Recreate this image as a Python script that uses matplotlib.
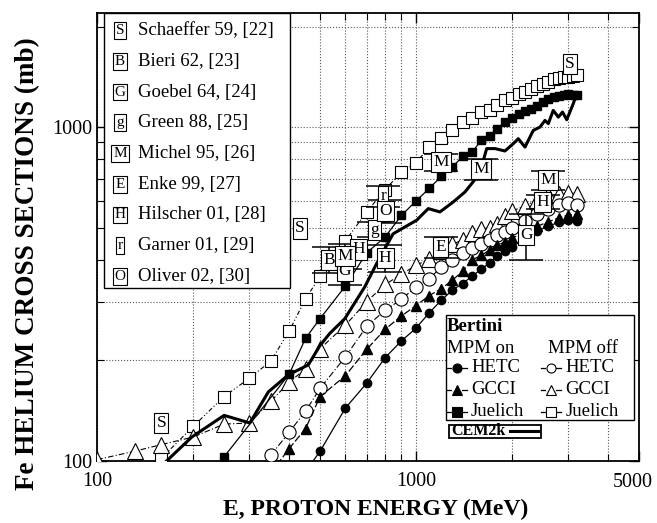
import matplotlib.pyplot as plt
from matplotlib.patches import Rectangle
from matplotlib.lines import Line2D
from matplotlib.transforms import offset_copy
from matplotlib.ticker import FixedLocator, NullFormatter, FixedFormatter

plt.rcParams['font.family'] = 'Liberation Serif'

# Bertini INC with MPM on
e_hetc_on = [450, 500, 600, 700, 800, 900, 1000, 1100, 1200, 1300, 1400, 1500, 1600,
             1700, 1800, 1900, 2000, 2200, 2400, 2600, 2800, 3000, 3200]
s_hetc_on = [93, 107, 144, 171, 204, 229, 250, 278, 303, 325, 340, 358, 375,
             392, 410, 425, 438, 465, 488, 505, 518, 526, 524]

e_gcci_on = [350, 400, 450, 500, 600, 700, 800, 900, 1000, 1100, 1200, 1300, 1400, 1500,
             1600, 1700, 1800, 1900, 2000, 2200, 2400, 2600, 2800, 3000, 3200]
s_gcci_on = [92, 109, 125, 156, 180, 216, 248, 272, 292, 313, 328, 348, 370, 400,
             413, 428, 443, 453, 465, 485, 505, 520, 535, 545, 548]

e_juel_on = [250, 400, 450, 500, 600, 700, 800, 900, 1000, 1100, 1200, 1300, 1400, 1500,
             1600, 1700, 1800, 1900, 2000, 2100, 2200, 2300, 2400, 2500, 2600, 2700,
             2800, 2900, 3000, 3100, 3200]
s_juel_on = [103, 182, 233, 267, 334, 420, 469, 544, 601, 655, 712, 759, 817, 842,
             912, 938, 989, 1035, 1064, 1091, 1116, 1135, 1153, 1188, 1216, 1230,
             1236, 1245, 1259, 1250, 1244]

# Bertini INC with MPM off
e_hetc_off = [350, 400, 450, 500, 600, 700, 800, 900, 1000, 1100, 1200, 1300, 1400,
              1500, 1600, 1700, 1800, 1900, 2000, 2200, 2400, 2600, 2800, 3000, 3200]
s_hetc_off = [104, 122, 141, 165, 205, 253, 283, 305, 333, 352, 380, 399, 420,
              435, 448, 458, 474, 486, 497, 525, 551, 568, 585, 592, 585]

e_gcci_off = [100, 131, 159, 200, 250, 300, 350, 400, 450, 500, 600, 700, 800, 900, 1000,
              1100, 1200, 1300, 1400, 1500, 1600, 1700, 1800, 1900, 2000, 2200, 2400,
              2600, 2800, 3000, 3200]
s_gcci_off = [101, 107, 112, 118, 129, 130, 151, 172, 189, 217, 255, 300, 338, 362, 386,
              402, 425, 445, 460, 482, 494, 500, 514, 540, 560, 582, 605,
              624, 630, 635, 632]

e_juel_off = [159, 200, 250, 300, 350, 400, 450, 500, 600, 700, 800, 900, 1000, 1100,
              1200, 1300, 1400, 1500, 1600, 1700, 1800, 1900, 2000, 2100, 2200, 2300,
              2400, 2500, 2600, 2700, 2800, 2900, 3000, 3100, 3200]
s_juel_off = [102, 127, 156, 177, 199, 245, 306, 357, 456, 557, 650, 733, 783, 871,
              929, 982, 1035, 1067, 1109, 1127, 1167, 1202, 1218, 1253, 1273, 1303,
              1324, 1343, 1364, 1396, 1405, 1410, 1412, 1420, 1428]

# CEM2k
e_cem = [165, 198, 250, 301, 344, 397, 459, 500, 536, 598, 690, 752, 847, 922, 1004,
         1092, 1188, 1309, 1423, 1494, 1582, 1665, 1768, 1900, 2018, 2092, 2196, 2331,
         2447, 2537, 2599, 2693, 2793, 2880, 2968, 3112, 3189]
s_cem = [100, 118, 137, 130, 161, 181, 194, 222, 241, 267, 332, 390, 479, 502, 526,
         570, 557, 597, 639, 677, 725, 862, 862, 848, 892, 923, 871, 977,
         1000, 1047, 1024, 1122, 1071, 1109, 1052, 1175, 1259]

# measurements: letter, energy (MeV), cross section (mb), error (mb)
exp_letter = ['S', 'S', 'S', 'B', 'G', 'G', 'g', 'M', 'M', 'M', 'M',
              'E', 'H', 'H', 'H', 'r', 'O']
exp_e = [159, 432, 3040, 533, 598, 2212, 740, 598, 1197, 1600, 2598,
         1196, 660, 800, 2496, 790, 800]
exp_s = [130, 497, 1548, 401, 371, 474, 493, 410, 785, 748, 693,
         438, 430, 405, 597, 620, 560]
exp_err = [0, 0, 0, 35, 35, 75, 25, 35, 45, 55, 47,
           32, 0, 37, 30, 45, 45]

legend_letters = ['S', 'B', 'G', 'g', 'M', 'E', 'H', 'r', 'O']
legend_refs = ['Schaeffer 59, [22]', 'Bieri 62, [23]', 'Goebel 64, [24]',
               'Green 88, [25]', 'Michel 95, [26]', 'Enke 99, [27]',
               'Hilscher 01, [28]', 'Garner 01, [29]', 'Oliver 02, [30]']

fig = plt.figure(figsize=(6.57, 5.23), dpi=100)
ax = fig.add_axes([0.148, 0.1185, 0.8245, 0.8572])
ax.set_xscale('log')
ax.set_yscale('log')
ax.set_xlim(100, 5000)
ax.set_ylim(100, 2200)

ax.plot(e_juel_off, s_juel_off, ls=(0, (4, 2, 1, 2, 1, 2)), color='k', lw=0.8,
        marker='s', ms=9, mfc='white', mec='k', mew=0.8, zorder=3)
ax.plot(e_gcci_off, s_gcci_off, ls=(0, (5, 2, 1, 2)), color='k', lw=0.8,
        marker='^', ms=11, mfc='white', mec='k', mew=0.8, zorder=3)
ax.plot(e_hetc_off, s_hetc_off, ls=(0, (6, 2, 1, 2)), color='k', lw=0.8,
        marker='o', ms=9.5, mfc='white', mec='k', mew=0.8, zorder=3)
ax.plot(e_juel_on, s_juel_on, ls='-', color='k', lw=0.9,
        marker='s', ms=5.5, mfc='k', mec='k', zorder=4)
ax.plot(e_gcci_on, s_gcci_on, ls=(0, (6, 2)), color='k', lw=0.9,
        marker='^', ms=7, mfc='k', mec='k', zorder=4)
ax.plot(e_hetc_on, s_hetc_on, ls='-', color='k', lw=0.9,
        marker='o', ms=6, mfc='k', mec='k', zorder=4)
ax.plot(e_cem, s_cem, color='k', lw=2.2, zorder=5)

box = dict(boxstyle='square,pad=0.12', fc='white', ec='k', lw=0.8)
for i in range(len(exp_letter)):
    if exp_err[i] > 0:
        ax.errorbar(exp_e[i], exp_s[i], yerr=exp_err[i], fmt='none', ecolor='k',
                    elinewidth=1.1, capsize=12, capthick=1.1, zorder=6)
    ax.text(exp_e[i], exp_s[i], exp_letter[i], fontsize=12.5, ha='center',
            va='center', bbox=box, zorder=7 + (exp_letter[i] != 'H'))

ax.xaxis.set_major_locator(FixedLocator([100, 1000, 5000]))
ax.xaxis.set_major_formatter(FixedFormatter(['100', '1000', '']))
ax.xaxis.set_minor_locator(FixedLocator([200, 300, 400, 500, 600, 700, 800, 900,
                                         2000, 3000, 4000]))
ax.xaxis.set_minor_formatter(NullFormatter())
ax.yaxis.set_major_locator(FixedLocator([100, 1000]))
ax.yaxis.set_major_formatter(FixedFormatter(['100', '1000']))
ax.yaxis.set_minor_locator(FixedLocator([200, 300, 400, 500, 600, 700, 800, 900, 2000]))
ax.yaxis.set_minor_formatter(NullFormatter())
ax.tick_params(which='both', direction='in', top=True, right=True, labelsize=14.5)
ax.tick_params(which='major', length=7, width=1)
ax.tick_params(which='minor', length=5, width=0.8)
ax.tick_params(axis='x', pad=8)
ax.grid(which='both', ls=':', color='0.35', lw=0.8)
for sp in ax.spines.values():
    sp.set_linewidth(1.3)

# last x label sits a little inside the right edge
ax.text(5000, 0, '5000', fontsize=14.5, ha='center', va='top',
        transform=offset_copy(ax.get_xaxis_transform(), fig=fig, x=-6.5, y=-12,
                              units='dots'))

ax.set_xlabel('E, PROTON ENERGY (MeV)', fontsize=17, fontweight='bold')
ax.xaxis.set_label_coords(0.5136, -0.085)
ax.set_ylabel('Fe HELIUM CROSS SECTIONS (mb)', fontsize=19.5, fontweight='bold')
ax.yaxis.set_label_coords(-0.105, 0.44)

# reference key, upper left
ax.add_patch(Rectangle((0.0124, 0.386), 0.344, 0.614, transform=ax.transAxes,
                       fc='white', ec='k', lw=1.0, zorder=10))
for i in range(len(legend_letters)):
    fy = 0.96 - i * 0.0685
    ax.text(0.042, fy, legend_letters[i], fontsize=11, ha='center', va='center',
            transform=ax.transAxes, bbox=box, zorder=11)
    ax.text(0.075, fy, legend_refs[i], fontsize=13.5, ha='left', va='center',
            transform=ax.transAxes, zorder=11)

# model key, lower right
ax.add_patch(Rectangle((0.643, 0.091), 0.348, 0.235, transform=ax.transAxes,
                       fc='white', ec='k', lw=1.0, zorder=10))
ax.text(0.646, 0.300, 'Bertini', fontsize=13.5, fontweight='bold', ha='left',
        va='center', transform=ax.transAxes, zorder=11)
ax.text(0.646, 0.252, 'MPM on', fontsize=13.5, ha='left', va='center',
        transform=ax.transAxes, zorder=11)
ax.text(0.832, 0.252, 'MPM off', fontsize=13.5, ha='left', va='center',
        transform=ax.transAxes, zorder=11)
key_names = ['HETC', 'GCCI', 'Juelich']
key_markers = ['o', '^', 's']
for i in range(3):
    fy = 0.208 - i * 0.049
    for x0, fill in [(0.646, 'k'), (0.820, 'white')]:
        ax.add_line(Line2D([x0, x0 + 0.036], [fy, fy], color='k', lw=0.9,
                           transform=ax.transAxes, zorder=11))
        ax.add_line(Line2D([x0 + 0.011, x0 + 0.025], [fy, fy], color='white', lw=1.5,
                           transform=ax.transAxes, zorder=11.5))
        ax.add_line(Line2D([x0 + 0.018], [fy], marker=key_markers[i], ms=6.5,
                           mfc=fill, mec='k', mew=0.8, ls='none',
                           transform=ax.transAxes, zorder=12))
        ax.text(x0 + 0.044, fy, key_names[i], fontsize=13.5, ha='left', va='center',
                transform=ax.transAxes, zorder=11)

ax.add_patch(Rectangle((0.649, 0.051), 0.170, 0.030, transform=ax.transAxes,
                       fc='white', ec='k', lw=1.3, zorder=10))
ax.text(0.654, 0.067, 'CEM2k', fontsize=11.5, fontweight='bold', ha='left',
        va='center', transform=ax.transAxes, zorder=11)
ax.add_line(Line2D([0.762, 0.813], [0.066, 0.066], color='k', lw=2.2,
                   transform=ax.transAxes, zorder=11))

fig.savefig('out.png', dpi=100)
